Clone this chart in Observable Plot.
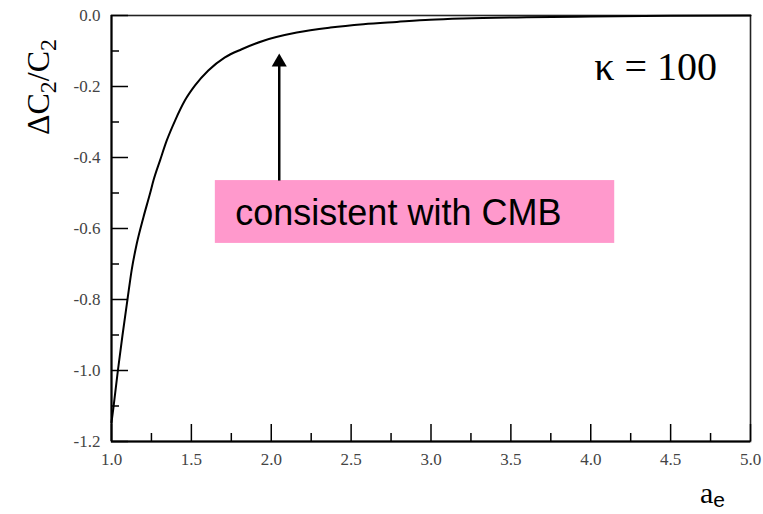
<!DOCTYPE html>
<html>
<head>
<meta charset="utf-8">
<script src="https://cdn.jsdelivr.net/npm/d3@7"></script>
<script src="https://cdn.jsdelivr.net/npm/@observablehq/plot@0.6"></script>
<style>
  html, body { margin: 0; padding: 0; background: #fff; }
  #chart svg { display: block; }
</style>
</head>
<body>
<div id="chart"></div>
<script>
// curve ΔC2/C2 vs a_e
const aE = [1.0, 1.0125, 1.04, 1.069, 1.1, 1.127, 1.158, 1.2, 1.242, 1.2625, 1.304, 1.346, 1.398, 1.46, 1.523, 1.606, 1.71, 1.815, 1.952, 2.16, 2.37, 2.577, 2.786, 2.994, 3.2, 3.6, 4.0, 4.5, 5.0];
const dC = [-1.146, -1.103, -1.0, -0.9, -0.8, -0.715, -0.643, -0.568, -0.5, -0.465, -0.408, -0.352, -0.296, -0.239, -0.197, -0.155, -0.118, -0.095, -0.071, -0.048, -0.034, -0.0245, -0.018, -0.012, -0.0085, -0.005, -0.003, -0.001, 0];

// tick values
const xMajor = [1.0, 1.5, 2.0, 2.5, 3.0, 3.5, 4.0, 4.5, 5.0];
const xMinor = [1.25, 1.75, 2.25, 2.75, 3.25, 3.75, 4.25, 4.75];
const yMajor = [0.0, -0.2, -0.4, -0.6, -0.8, -1.0, -1.2];
const yMinor = [-0.1, -0.3, -0.5, -0.7, -0.9, -1.1];

// annotations (data coordinates)
const boxX = [1.65, 4.15];
const boxY = [-0.465, -0.642];
const arrowX = [2.05];
const arrowY = [-0.465, -0.135];
const arrowHeadY = [-0.1315];
const boxLabel = ["consistent with CMB"];
const boxLabelPos = [1.775, -0.5915];
const kappaLabel = ["κ = 100"];
const kappaPos = [4.79, -0.183];

const SERIF = "Liberation Serif";
const SANS = "Liberation Sans";

const curve = aE.map((a, i) => ({a, v: dC[i]}));

const plot = Plot.plot({
  width: 763,
  height: 514,
  marginLeft: 111,
  marginRight: 13,
  marginTop: 15,
  marginBottom: 73,
  style: {fontFamily: SERIF, background: "#fff", color: "#000"},
  x: {domain: [1, 5]},
  y: {domain: [-1.2, 0]},
  marks: [
    Plot.rect([0], {x1: boxX[0], x2: boxX[1], y1: boxY[0], y2: boxY[1], fill: "#ff99cc"}),
    Plot.frame({stroke: "#222", strokeWidth: 1.6}),
    // inward ticks
    Plot.axisX(xMajor, {tickSize: -17, tickFormat: () => "", label: null, strokeWidth: 1.5}),
    Plot.axisX(xMinor, {tickSize: -8, tickFormat: () => "", label: null, strokeWidth: 1.5}),
    Plot.axisY(yMajor, {tickSize: -17, tickFormat: () => "", label: null, strokeWidth: 1.5}),
    Plot.axisY(yMinor, {tickSize: -8, tickFormat: () => "", label: null, strokeWidth: 1.5}),
    // tick labels
    Plot.axisX(xMajor, {tickSize: 0, tickPadding: 11, tickFormat: d => d.toFixed(1), label: null, fontSize: 17, fontFamily: SERIF, fontVariant: "normal", fill: "#444"}),
    Plot.axisY(yMajor, {tickSize: 0, tickPadding: 11, tickFormat: d => d.toFixed(1), label: null, fontSize: 17, fontFamily: SERIF, fontVariant: "normal", fill: "#444"}),
    // axis lines
    Plot.ruleX([1], {stroke: "#000", strokeWidth: 2}),
    Plot.ruleY([-1.2], {stroke: "#000", strokeWidth: 2}),
    // curve
    Plot.line(curve, {x: "a", y: "v", stroke: "#000", strokeWidth: 2, curve: "monotone-x"}),
    // arrow
    Plot.link([0], {x1: arrowX[0], x2: arrowX[0], y1: arrowY[0], y2: arrowY[1], stroke: "#000", strokeWidth: 2.5}),
    Plot.dot([0], {x: arrowX[0], y: arrowHeadY[0], symbol: "triangle", r: 5.6, fill: "#000", stroke: null}),
    // texts
    Plot.text(boxLabel, {x: boxLabelPos[0], y: boxLabelPos[1], text: d => d, textAnchor: "start", lineAnchor: "bottom", fontSize: 36, fontFamily: SANS, fill: "#000"}),
    Plot.text(kappaLabel, {x: kappaPos[0], y: kappaPos[1], text: d => d, textAnchor: "end", lineAnchor: "bottom", fontSize: 40, fontFamily: SERIF, fill: "#000"})
  ]
});

document.getElementById("chart").appendChild(plot);

// axis titles with subscripts
const svg = d3.select(plot);
const yl = svg.append("text")
  .attr("transform", "translate(49,87) rotate(-90)")
  .attr("text-anchor", "middle")
  .attr("font-family", SERIF)
  .attr("font-size", 32)
  .attr("fill", "#000");
yl.append("tspan").text("ΔC");
yl.append("tspan").attr("font-size", 24).attr("dy", 7).text("2");
yl.append("tspan").attr("dy", -7).text("/C");
yl.append("tspan").attr("font-size", 24).attr("dy", 7).text("2");

const xl = svg.append("text")
  .attr("x", 700)
  .attr("y", 503)
  .attr("text-anchor", "start")
  .attr("font-family", SERIF)
  .attr("font-size", 30)
  .attr("fill", "#000");
xl.append("tspan").text("a");
xl.append("tspan").attr("font-size", 21).attr("dy", 4).attr("font-family", SANS).text("e");
</script>
</body>
</html>
